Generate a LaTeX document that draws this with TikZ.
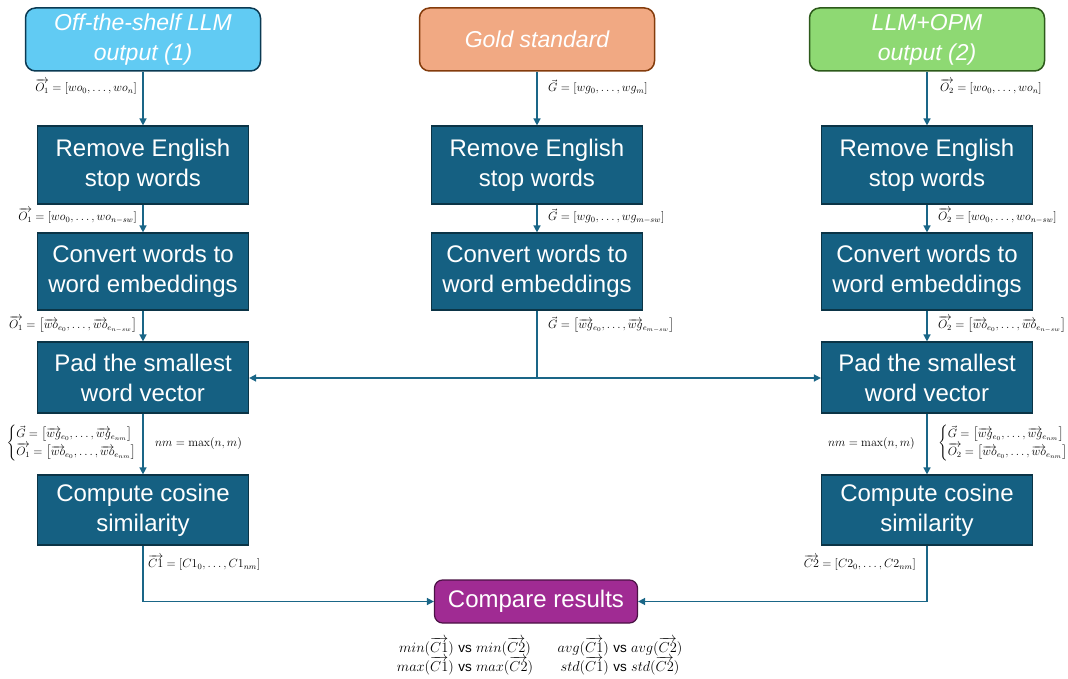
\documentclass[tikz,border=0pt]{standalone}
\usepackage{amsmath}
\usepackage[no-math]{fontspec}
\newfontfamily\boxfont{Liberation Sans}
\usetikzlibrary{arrows.meta}
\definecolor{dkfill}{HTML}{156082}
\definecolor{dkborder}{HTML}{0B3446}
\definecolor{skyb}{HTML}{61CBF3}
\definecolor{skyd}{HTML}{0B3A53}
\definecolor{goldf}{HTML}{F1A983}
\definecolor{goldd}{HTML}{843C0C}
\definecolor{grnf}{HTML}{8ED973}
\definecolor{grnd}{HTML}{2D5A1B}
\definecolor{purf}{HTML}{A02B93}
\definecolor{purd}{HTML}{4A1244}
\definecolor{arrowc}{HTML}{1A6687}
\newcommand{\mybrace}[1]{\renewcommand{\arraystretch}{1.35}\left\{\begin{array}{@{}l@{}}#1\end{array}\right.}
\begin{document}
\begin{tikzpicture}[x=1pt,y=-1pt,
  topbox/.style={draw, line width=1.5pt, rounded corners=10pt, minimum width=235pt, minimum height=63pt, text=white, font=\boxfont\itshape\fontsize{23}{30}\selectfont, align=center, inner sep=0pt},
  darkbox/.style={draw=dkborder, fill=dkfill, line width=1.2pt, minimum width=211pt, text=white, font=\boxfont\fontsize{24}{30}\selectfont, align=center, inner sep=0pt},
  cmpbox/.style={draw=purd, fill=purf, line width=1.2pt, rounded corners=8pt, minimum width=203pt, minimum height=43pt, text=white, font=\boxfont\fontsize{24}{30}\selectfont, inner sep=0pt},
  lbl/.style={font=\fontsize{11.6}{13}\selectfont, inner sep=0pt},
  plainline/.style={draw=arrowc, line width=1.5pt},
  arr/.style={draw=arrowc, line width=1.5pt, -{Triangle[length=7pt,width=7pt]}}]
\useasboundingbox (0,0) rectangle (1068,679);

% top boxes
\node[topbox, fill=skyb, draw=skyd] (t1) at (143,39.5) {Off-the-shelf LLM\\output (1)};
\node[topbox, fill=goldf, draw=goldd] (t2) at (537,39.5) {Gold standard};
\node[topbox, fill=grnf, draw=grnd] (t3) at (927,39.5) {LLM+OPM\\output (2)};

% left column
\node[darkbox, minimum height=78pt] (l1) at (143,165) {Remove English\\stop words};
\node[darkbox, minimum height=77pt] (l2) at (143,271.5) {Convert words to\\word embeddings};
\node[darkbox, minimum height=71pt] (l3) at (143,377.5) {Pad the smallest\\word vector};
\node[darkbox, minimum height=70pt] (l4) at (143,510) {Compute cosine\\similarity};

% middle column
\node[darkbox, minimum height=78pt] (m1) at (537,165) {Remove English\\stop words};
\node[darkbox, minimum height=77pt] (m2) at (537,271.5) {Convert words to\\word embeddings};

% right column
\node[darkbox, minimum height=78pt] (r1) at (927,165) {Remove English\\stop words};
\node[darkbox, minimum height=77pt] (r2) at (927,271.5) {Convert words to\\word embeddings};
\node[darkbox, minimum height=71pt] (r3) at (927,377.5) {Pad the smallest\\word vector};
\node[darkbox, minimum height=70pt] (r4) at (927,510) {Compute cosine\\similarity};

% compare
\node[cmpbox] (cmp) at (536,601.5) {Compare results};

% arrows
\draw[arr] (t1) -- (l1);
\draw[arr] (l1) -- (l2);
\draw[arr] (l2) -- (l3);
\draw[arr] (l3) -- (l4);
\draw[arr] (t2) -- (m1);
\draw[arr] (m1) -- (m2);
\draw[arr] (t3) -- (r1);
\draw[arr] (r1) -- (r2);
\draw[arr] (r2) -- (r3);
\draw[arr] (r3) -- (r4);
\coordinate (j) at (537,378);
\draw[plainline] (m2.south) -- (j);
\draw[arr] (j) -- (j -| l3.east);
\draw[arr] (j) -- (j -| r3.west);
\draw[arr] (l4.south) |- (cmp.west);
\draw[arr] (r4.south) |- (cmp.east);

% labels
\node[lbl, anchor=east] (a1) at (137,87) {$\overrightarrow{O_1} = [wo_0, \ldots, wo_n]$};
\node[lbl, anchor=west] (a2) at (548,87) {$\vec{G} = [wg_0, \ldots, wg_m]$};
\node[lbl, anchor=west] (a3) at (940,87) {$\overrightarrow{O_2} = [wo_0, \ldots, wo_n]$};

\node[lbl, anchor=east] (b1) at (137,216) {$\overrightarrow{O_1} = [wo_0, \ldots, wo_{n-sw}]$};
\node[lbl, anchor=west] (b2) at (548,216) {$\vec{G} = [wg_0, \ldots, wg_{m-sw}]$};
\node[lbl, anchor=west] (b3) at (938,216) {$\overrightarrow{O_2} = [wo_0, \ldots, wo_{n-sw}]$};

\node[lbl, anchor=east] (c1) at (137,324) {$\overrightarrow{O_1} = \bigl[\overrightarrow{wo}_{e_0}, \ldots, \overrightarrow{wo}_{e_{n-sw}}\bigr]$};
\node[lbl, anchor=west] (c2) at (548,325) {$\vec{G} = \bigl[\overrightarrow{wg}_{e_0}, \ldots, \overrightarrow{wg}_{e_{m-sw}}\bigr]$};
\node[lbl, anchor=west] (c3) at (938,324) {$\overrightarrow{O_2} = \bigl[\overrightarrow{wo}_{e_0}, \ldots, \overrightarrow{wo}_{e_{n-sw}}\bigr]$};

\node[lbl, anchor=east] (d1) at (137,443) {$\mybrace{\vec{G} = \bigl[\overrightarrow{wg}_{e_0}, \ldots, \overrightarrow{wg}_{e_{nm}}\bigr]\\ \overrightarrow{O_1} = \bigl[\overrightarrow{wo}_{e_0}, \ldots, \overrightarrow{wo}_{e_{nm}}\bigr]}$};
\node[lbl, anchor=west] (e1) at (155,443) {$nm = \max(n, m)$};
\node[lbl, anchor=east] (e3) at (915,443) {$nm = \max(n, m)$};
\node[lbl, anchor=west] (d3) at (938,443) {$\mybrace{\vec{G} = \bigl[\overrightarrow{wg}_{e_0}, \ldots, \overrightarrow{wg}_{e_{nm}}\bigr]\\ \overrightarrow{O_2} = \bigl[\overrightarrow{wo}_{e_0}, \ldots, \overrightarrow{wo}_{e_{nm}}\bigr]}$};

\node[lbl, anchor=west] (f1) at (148,563) {$\overrightarrow{C1} = [C1_0, \ldots, C1_{nm}]$};
\node[lbl, anchor=east] (f3) at (916,563) {$\overrightarrow{C2} = [C2_0, \ldots, C2_{nm}]$};

\node[lbl, align=center, font=\fontsize{13.5}{19}\selectfont] (g1) at (465,656) {$min(\overrightarrow{C1})$ {\boxfont vs} $min(\overrightarrow{C2})$\\ $max(\overrightarrow{C1})$ {\boxfont vs} $max(\overrightarrow{C2})$};
\node[lbl, align=center, font=\fontsize{13.5}{19}\selectfont] (g2) at (620,656) {$avg(\overrightarrow{C1})$ {\boxfont vs} $avg(\overrightarrow{C2})$\\ $std(\overrightarrow{C1})$ {\boxfont vs} $std(\overrightarrow{C2})$};
\end{tikzpicture}
\end{document}
